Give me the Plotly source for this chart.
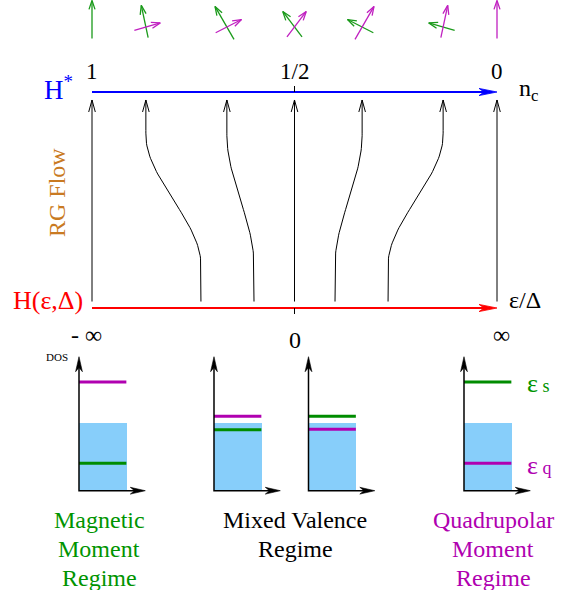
import numpy as np
import plotly.graph_objects as go

W, H = 574, 590

# ------------------------------------------------------------------ data
nc_tick_vals = [1.0, 0.5, 0.0]
nc_tick_text = ["1", "1/2", "0"]
eps_tick_vals = [1.0, 0.5, 0.0]            # same horizontal scale as n_c
eps_tick_text = ["- ∞", "0", "∞"]

flow_start_nc = [1.0, 0.731, 0.600, 0.500, 0.400, 0.269, 0.0]   # start on H(ε,Δ)
flow_end_nc = [1.0, 0.867, 0.667, 0.500, 0.333, 0.133, 0.0]     # fixed point on H*

spin_angle = [90, 102, 120, 127, 153, 164, None]     # green (magnetic) vector, degrees
spin_len = [38, 33, 38, 32, 29, 27, 0]
quad_angle = [None, 16, 27, 53, 60, 78, 90]          # magenta (quadrupolar) vector
quad_len = [0, 27, 29, 32, 38, 33, 38]

band_top = [1.0, 1.0, 1.0, 1.0]                      # conduction band filling (DOS panels)
eps_s = [0.40, 0.89, 1.09, 1.59]                     # green level
eps_q = [1.59, 1.09, 0.90, 0.40]                     # magenta level

regime_lines = [["Magnetic", "Moment", "Regime"],
                ["Mixed Valence", "Regime"],
                ["Quadrupolar", "Moment", "Regime"]]

# ------------------------------------------------------------------ layout constants
FONT = "Liberation Serif, Times New Roman, Times, DejaVu Serif, serif"
GREEN = "#008c00"
GREEN_T = "#009400"
MAG = "#b000b0"
BLUE = "#0000ff"
RED = "#ff0000"
ORANGE = "#c97a22"
BAND = "#87cefa"

XL_PX, XR_PX = 92, 497      # n_c = 1 .. 0
YB_PX, YT_PX = 308, 92      # t = 0 .. 1
span_x = XR_PX - XL_PX
span_y = YB_PX - YT_PX
main_xr = [1 + XL_PX / span_x, 1 - (W - XL_PX) / span_x]
main_yr = [(YB_PX - H) / span_y, YB_PX / span_y]

T_FLOW0, T_FLOW1 = 0.03, 0.963
T_SPIN = (YB_PX - 27) / span_y

DOS_X0 = [79, 214, 308.5, 464]
DOS_Y0 = 490.7
DOS_W, DOS_H = 66.3, 134
DOS_XMAX, DOS_YMAX = 1.4, 1.96          # arrow tips of the DOS axes
dos_xr = [-0.2, 1.55]
dos_yr = [-0.12, 2.05]
SX = DOS_W / DOS_XMAX
SY = DOS_H / DOS_YMAX


def mapper(xr, xd, yr, yd):
    def fwd(x, y):
        X = (xd[0] + (x - xr[0]) / (xr[1] - xr[0]) * (xd[1] - xd[0])) * W
        Y = (yd[0] + (y - yr[0]) / (yr[1] - yr[0]) * (yd[1] - yd[0])) * H
        return np.array([X, Y])

    def inv(P):
        X, Y = P
        x = xr[0] + (X / W - xd[0]) / (xd[1] - xd[0]) * (xr[1] - xr[0])
        y = yr[0] + (Y / H - yd[0]) / (yd[1] - yd[0]) * (yr[1] - yr[0])
        return x, y
    return fwd, inv


main_fwd, main_inv = mapper(main_xr, [0, 1], main_yr, [0, 1])


def chevron(fwd, inv, tip, d, L, hw):
    T = fwd(*tip)
    d = np.array(d, float) / np.hypot(*d)
    n = np.array([-d[1], d[0]])
    back = T - L * d
    pts = [inv(back + hw * n), inv(T), inv(back - hw * n)]
    return [p[0] for p in pts] + [None], [p[1] for p in pts] + [None]


def barbed(fwd, inv, tip, d, L, hw, inset=0.28):
    T = fwd(*tip)
    d = np.array(d, float) / np.hypot(*d)
    n = np.array([-d[1], d[0]])
    back = T - L * d
    mid = T - L * (1 - inset) * d
    pts = [inv(T), inv(back + hw * n), inv(mid), inv(back - hw * n), inv(T)]
    return [p[0] for p in pts] + [None], [p[1] for p in pts] + [None]


def shorten(fwd, inv, tip, d, L):
    T = fwd(*tip)
    d = np.array(d, float) / np.hypot(*d)
    return inv(T - L * d)


fig = go.Figure()

# ------------------------------------------------------------------ RG flow lines
hx, hy = [], []
for a, b in zip(flow_start_nc, flow_end_nc):
    t = np.linspace(T_FLOW0, T_FLOW1, 80)
    s = np.clip((t - 0.2) / 0.6, 0, 1)
    S = s * s * (3 - 2 * s)
    x = a + (b - a) * S
    fig.add_trace(go.Scatter(x=x, y=t, mode="lines", line=dict(color="black", width=1),
                             hoverinfo="skip"))
    cx, cy = chevron(main_fwd, main_inv, (b, T_FLOW1), (0, 1), 12, 3.3)
    hx += cx
    hy += cy
fig.add_trace(go.Scatter(x=hx, y=hy, mode="lines", line=dict(color="black", width=1),
                         hoverinfo="skip"))

# ------------------------------------------------------------------ H* and H(eps,Delta) axes
for tval, col in [(1.0, BLUE), (0.0, RED)]:
    end = shorten(main_fwd, main_inv, (nc_tick_vals[-1], tval), (1, 0), 10)
    fig.add_trace(go.Scatter(x=[nc_tick_vals[0], end[0]], y=[tval, tval], mode="lines",
                             line=dict(color=col, width=1.8), hoverinfo="skip"))
    bx, by = barbed(main_fwd, main_inv, (nc_tick_vals[-1], tval), (1, 0), 18, 3.6)
    fig.add_trace(go.Scatter(x=bx, y=by, mode="lines", fill="toself", fillcolor=col,
                             line=dict(color=col, width=0.8), hoverinfo="skip"))

# ticks at 1/2 and 0
fig.add_trace(go.Scatter(x=[0.5, 0.5, None, 0.5, 0.5],
                         y=[1.0, 1.0 + 6 / span_y, None, 0.0, -6 / span_y],
                         mode="lines", line=dict(color="black", width=1), hoverinfo="skip"))

# ------------------------------------------------------------------ spin / quadrupole vectors
def vec_traces(nc_vals, angles, lens, color):
    xs, ys, hx, hy = [], [], [], []
    for nc, ang, ln in zip(nc_vals, angles, lens):
        if ang is None or ln == 0:
            continue
        C = main_fwd(nc, T_SPIN)
        a = np.radians(ang)
        v = np.array([np.cos(a), np.sin(a)]) * ln
        f = 0.3 + 0.15 * abs(np.cos(a))
        tail = main_inv(C - f * v)
        tip = main_inv(C + (1 - f) * v)
        xs += [tail[0], tip[0], None]
        ys += [tail[1], tip[1], None]
        cx, cy = chevron(main_fwd, main_inv, tip, v, 9, 3)
        hx += cx
        hy += cy
    fig.add_trace(go.Scatter(x=xs + hx, y=ys + hy, mode="lines",
                             line=dict(color=color, width=1.3), hoverinfo="skip"))


vec_traces(flow_end_nc, spin_angle, spin_len, "#1a9a1a")
vec_traces(flow_end_nc, quad_angle, quad_len, "#c020c0")

# ------------------------------------------------------------------ DOS panels
layout_axes = {}
for i in range(4):
    k = i + 2
    x_lo = DOS_X0[i] + dos_xr[0] * SX
    x_hi = DOS_X0[i] + dos_xr[1] * SX
    y_lo = DOS_Y0 - dos_yr[0] * SY
    y_hi = DOS_Y0 - dos_yr[1] * SY
    xd = [x_lo / W, x_hi / W]
    yd = [1 - y_lo / H, 1 - y_hi / H]
    layout_axes[f"xaxis{k}"] = dict(domain=xd, range=dos_xr, visible=False, anchor=f"y{k}",
                                    fixedrange=True)
    layout_axes[f"yaxis{k}"] = dict(domain=yd, range=dos_yr, visible=False, anchor=f"x{k}",
                                    fixedrange=True)
    xa, ya = f"x{k}", f"y{k}"
    fwd, inv = mapper(dos_xr, xd, dos_yr, yd)

    fig.add_trace(go.Bar(x=[0.5], y=[band_top[i]], width=[1], marker=dict(color=BAND,
                         line=dict(width=0)), xaxis=xa, yaxis=ya, hoverinfo="skip"))
    fig.add_trace(go.Scatter(x=[0, 1], y=[eps_q[i]] * 2, mode="lines",
                             line=dict(color=MAG, width=3), xaxis=xa, yaxis=ya, hoverinfo="skip"))
    fig.add_trace(go.Scatter(x=[0, 1], y=[eps_s[i]] * 2, mode="lines",
                             line=dict(color=GREEN, width=3), xaxis=xa, yaxis=ya, hoverinfo="skip"))
    ex = shorten(fwd, inv, (DOS_XMAX, 0), (1, 0), 8)
    ey = shorten(fwd, inv, (0, DOS_YMAX), (0, 1), 8)
    fig.add_trace(go.Scatter(x=[ex[0], 0, 0], y=[0, 0, ey[1]], mode="lines",
                             line=dict(color="black", width=1.5), xaxis=xa, yaxis=ya,
                             hoverinfo="skip"))
    ax1, ay1 = barbed(fwd, inv, (DOS_XMAX, 0), (1, 0), 15, 3.4)
    ax2, ay2 = barbed(fwd, inv, (0, DOS_YMAX), (0, 1), 15, 3.4)
    fig.add_trace(go.Scatter(x=ax1 + ax2, y=ay1 + ay2, mode="lines", fill="toself",
                             fillcolor="black", line=dict(color="black", width=0.6),
                             xaxis=xa, yaxis=ya, hoverinfo="skip"))

# ------------------------------------------------------------------ text
def P(xp, yp):
    return xp / W, 1 - yp / H


ann = []


def txt(text, xp, yp, size, color="black", xanchor="center", angle=0):
    x, y = P(xp, yp)
    ann.append(dict(text=text, x=x, y=y, xref="paper", yref="paper", showarrow=False,
                    xanchor=xanchor, yanchor="middle", textangle=angle,
                    font=dict(family=FONT, size=size, color=color)))


for v, s in zip(nc_tick_vals, nc_tick_text):
    ann.append(dict(text=s, x=v, y=1.0, xref="x", yref="y", showarrow=False, yshift=21,
                    font=dict(family=FONT, size=23, color="black")))
for v, s in zip(eps_tick_vals, eps_tick_text):
    ys = -32 if s == "0" else -27
    ann.append(dict(text=s, x=v, y=0.0, xref="x", yref="y", showarrow=False, yshift=ys,
                    xshift=(-6 if s.startswith("-") else 4 if s == "∞" else 0),
                    font=dict(family=FONT, size=24, color="black")))

txt("H<sup>*</sup>", 58, 88, 27, BLUE)
txt("n<sub>c</sub>", 517, 90, 24, "black", xanchor="left")
txt("H(ε,Δ)", 85, 301, 26, RED, xanchor="right")
txt("ε/Δ", 507, 300, 24, "black", xanchor="left")
txt("RG Flow", 57, 193, 24, ORANGE, angle=-90)
txt("DOS", 57, 357, 11, "black")
txt('<span style="font-size:26px">ε</span> s', 525, 383, 18, GREEN_T, xanchor="left")
txt('<span style="font-size:26px">ε</span> q', 525, 465, 18, MAG, xanchor="left")

block_x = [99, 295, 493]
block_col = [GREEN_T, "black", MAG]
for lines, bx, col in zip(regime_lines, block_x, block_col):
    for j, line in enumerate(lines):
        txt(line, bx, 520 + 29 * j, 24, col)

fig.update_layout(
    width=W, height=H, margin=dict(l=0, r=0, t=0, b=0),
    paper_bgcolor="white", plot_bgcolor="white", showlegend=False,
    xaxis=dict(range=main_xr, visible=False, domain=[0, 1], fixedrange=True),
    yaxis=dict(range=main_yr, visible=False, domain=[0, 1], fixedrange=True),
    annotations=ann, bargap=0,
    **layout_axes,
)

fig.write_html("out.html", post_script="document.body.style.margin='0';",
               config={"displayModeBar": False})
